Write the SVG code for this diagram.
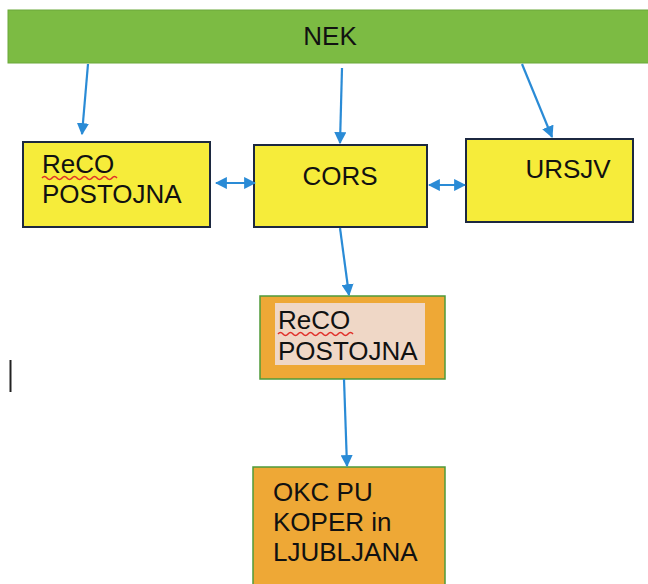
<svg xmlns="http://www.w3.org/2000/svg" width="648" height="584" viewBox="0 0 648 584">
<style>
text{font-family:"Liberation Sans",Arial,sans-serif;font-size:26px;fill:#111}
.yb{fill:#f6ec3a;stroke:#1c2840;stroke-width:2}
.ob{fill:#eea836;stroke:#4f9a3a;stroke-width:1.5}
.c{stroke:#2a8bd6;stroke-width:2.2;fill:none}
.w{stroke:#e0302a;stroke-width:1.5;fill:none}
</style>
<defs>
<marker id="ah" viewBox="0 0 10 10" refX="9" refY="5" markerWidth="5.5" markerHeight="5.5" orient="auto-start-reverse" markerUnits="strokeWidth">
<path d="M0,0 L10,5 L0,10 Z" fill="#2a8bd6"/>
</marker>
</defs>
<rect width="648" height="584" fill="#ffffff"/>
<g id="nek">
<rect x="8" y="10" width="645" height="53" fill="#7cbb43" stroke="#6aa83a" stroke-width="1"/>
<text x="330" y="45" text-anchor="middle" font-size="24">NEK</text>
</g>
<g id="reco1">
<rect class="yb" x="23" y="142" width="187" height="85"/>
<text x="42" y="173">ReCO</text>
<text x="42" y="203">POSTOJNA</text>
<path class="w" d="M42,178 q2.5,-3 5,0 t5,0 t5,0 t5,0 t5,0 t5,0 t5,0 t5,0 t5,0 t5,0 t5,0 t5,0 t5,0 t5,0 t5,0"/>
</g>
<g id="cors">
<rect class="yb" x="254" y="145" width="173" height="82"/>
<text x="340" y="185" text-anchor="middle">CORS</text>
</g>
<g id="ursjv">
<rect class="yb" x="466" y="139" width="167" height="83"/>
<text x="568" y="178" text-anchor="middle">URSJV</text>
</g>
<g id="reco2">
<rect class="ob" x="260" y="296" width="185" height="83"/>
<rect x="275" y="303" width="150" height="62" fill="#efd7c6"/>
<text x="278" y="329">ReCO</text>
<text x="278" y="360">POSTOJNA</text>
<path class="w" d="M278,334 q2.5,-3 5,0 t5,0 t5,0 t5,0 t5,0 t5,0 t5,0 t5,0 t5,0 t5,0 t5,0 t5,0 t5,0 t5,0 t5,0"/>
</g>
<g id="okc">
<rect class="ob" x="253" y="467" width="192" height="125"/>
<text x="273" y="501">OKC PU</text>
<text x="273" y="531">KOPER in</text>
<text x="273" y="561">LJUBLJANA</text>
</g>
<g id="connectors">
<line class="c" x1="88" y1="64" x2="82" y2="134" marker-end="url(#ah)"/>
<line class="c" x1="342" y1="68" x2="340" y2="143" marker-end="url(#ah)"/>
<line class="c" x1="522" y1="64" x2="552" y2="137" marker-end="url(#ah)"/>
<line class="c" x1="216" y1="183" x2="255" y2="183" marker-start="url(#ah)" marker-end="url(#ah)"/>
<line class="c" x1="429" y1="185" x2="465" y2="185" marker-start="url(#ah)" marker-end="url(#ah)"/>
<line class="c" x1="340" y1="228" x2="349" y2="295" marker-end="url(#ah)"/>
<line class="c" x1="344" y1="379" x2="347" y2="466" marker-end="url(#ah)"/>
</g>
<line x1="10.5" y1="360" x2="10.5" y2="392" stroke="#222" stroke-width="2"/>
</svg>
